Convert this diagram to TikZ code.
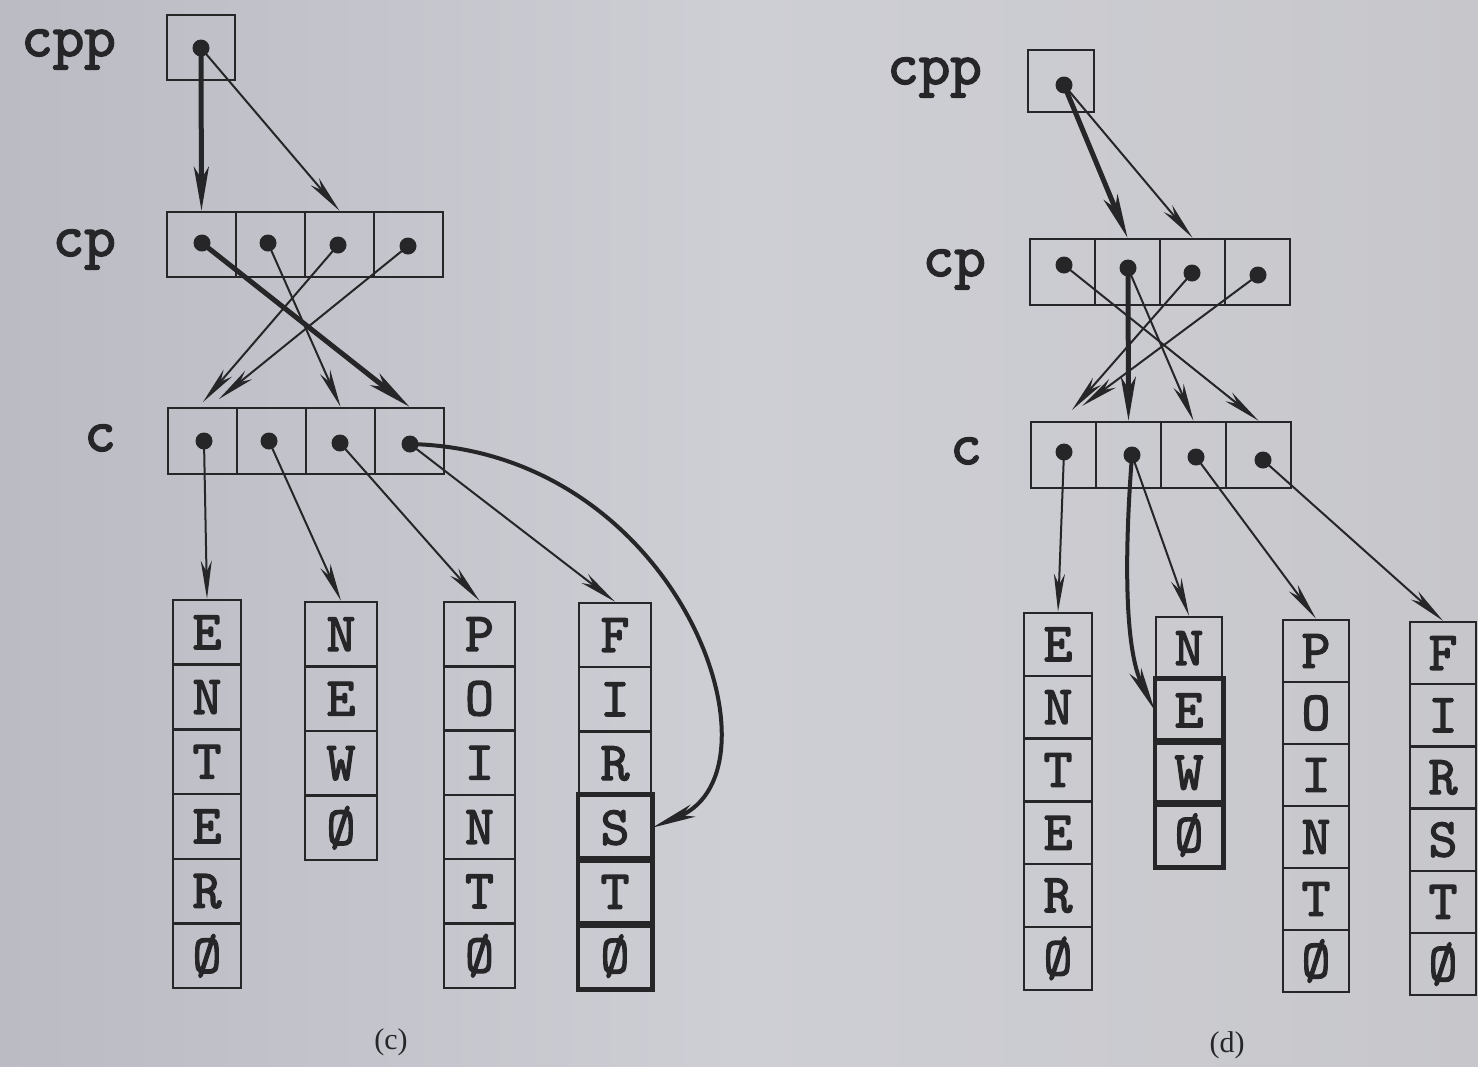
\documentclass[tikz,border=0pt]{standalone}
\usepackage{fontspec}
\setmainfont{Liberation Serif}
\newfontfamily\courfam{lmmono10-regular}[Extension=.otf, FakeBold=2.4]
\usetikzlibrary{arrows.meta}
\definecolor{ink}{RGB}{38,38,40}
\definecolor{bgl}{RGB}{186,187,195}
\definecolor{bgm}{RGB}{206,207,213}
\definecolor{bgr}{RGB}{199,199,203}
\newcommand\lettf{\courfam\fontsize{55}{55}\selectfont}
\newcommand\lbltf{\courfam\fontsize{60}{60}\selectfont}
\newcommand\captf{\fontsize{30}{30}\selectfont}
\tikzset{
  cell/.style={draw=ink, line width=2.5pt, inner sep=0pt, font=\lettf, text=ink},
  dot/.style={circle, fill=ink, inner sep=0pt, minimum size=17pt},
  lbl/.style={font=\lbltf, text=ink, inner sep=0pt, anchor=base east},
  captxt/.style={font=\captf, text=ink, inner sep=0pt},
  thinarr/.style={draw=ink, line width=2pt, -{Stealth[length=38pt,width=11pt,inset=11pt]}},
  thickarr/.style={draw=ink, line width=5pt, -{Stealth[length=44pt,width=15pt,inset=12pt]}},
  curvarr/.style={draw=ink, line width=4pt, -{Stealth[length=44pt,width=13pt,inset=12pt]}},
  thickcell/.style={draw=ink, line width=4.5pt}
}
\begin{document}
\begin{tikzpicture}[x=1pt,y=-1pt]
\useasboundingbox (0,0) rectangle (1478,1066);
\shade[left color=bgl, right color=bgr, middle color=bgm] (0,0) rectangle (1478,1066);

% ================= (c) =================
\node[lbl] (lcpp) at (116,56) {cpp};
\node[lbl] (lcp) at (116,256) {cp};
\node[lbl] (lc) at (116,451) {c};

\node[cell, minimum width=68pt, minimum height=65pt] (cppc) at (201,47.5) {};
\node[dot] (cppd) at (201,48) {};

\foreach \i in {0,...,3} {
  \node[cell, minimum width=69pt, minimum height=65pt] (cpc\i) at ({201.5+69*\i},244.5) {};
  \node[cell, minimum width=69pt, minimum height=66pt] (cc\i) at ({202.5+69*\i},441) {};
}
\node[dot] (cpd0) at (202,243) {};
\node[dot] (cpd1) at (268,243) {};
\node[dot] (cpd2) at (338,245) {};
\node[dot] (cpd3) at (408,246) {};
\node[dot] (cd0) at (204,441) {};
\node[dot] (cd1) at (269,441) {};
\node[dot] (cd2) at (340,443) {};
\node[dot] (cd3) at (410,444) {};

\foreach \ch [count=\i from 0] in {E,N,T,E,R,Ø}
  \node[cell, minimum width=68pt, minimum height=64.7pt] (cE\i) at (207,{600+(\i+0.5)*64.7}) {\ch};
\foreach \ch [count=\i from 0] in {N,E,W,Ø}
  \node[cell, minimum width=72pt, minimum height=64.5pt] (cN\i) at (341,{602+(\i+0.5)*64.5}) {\ch};
\foreach \ch [count=\i from 0] in {P,O,I,N,T,Ø}
  \node[cell, minimum width=71pt, minimum height=64.3pt] (cP\i) at (479.5,{602+(\i+0.5)*64.3}) {\ch};
\foreach \ch [count=\i from 0] in {F,I,R,S,T,Ø}
  \node[cell, minimum width=72pt, minimum height=64.2pt] (cF\i) at (615,{603+(\i+0.5)*64.2}) {\ch};
\foreach \i in {3,4,5}
  \draw[thickcell] (cF\i.north west) rectangle (cF\i.south east);

\coordinate (ct1) at (203,402);
\coordinate (ct2) at (219,399);

\draw[thickarr] (cppd.center) -- (cpc0.north);
\draw[thinarr] (cppd.center) -- (cpc2.north);
\draw[thickarr] (cpd0.center) -- (cc3.north);
\draw[thinarr] (cpd1.center) -- (cc2.north);
\draw[thinarr] (cpd2.center) -- (ct1);
\draw[thinarr] (cpd3.center) -- (ct2);
\draw[thinarr] (cd0.center) -- (cE0.north);
\draw[thinarr] (cd1.center) -- (cN0.north);
\draw[thinarr] (cd2.center) -- (cP0.north);
\draw[thinarr] (cd3.center) -- (cF0.north);
\draw[curvarr] (cd3.center) .. controls (680,450) and (790,770) .. (cF3.east);

\node[captxt] (capc) at (391,1042) {(c)};

% ================= (d) =================
\node[lbl] (dlcpp) at (982,84) {cpp};
\node[lbl] (dlcp) at (986,276) {cp};
\node[lbl] (dlc) at (982,464) {c};

\node[cell, minimum width=66pt, minimum height=62pt] (dcppc) at (1061,81) {};
\node[dot] (dcppd) at (1064,85) {};

\foreach \i in {0,...,3} {
  \node[cell, minimum width=65pt, minimum height=66pt] (dcp\i) at ({1062.5+65*\i},272) {};
  \node[cell, minimum width=65pt, minimum height=66pt] (dc\i) at ({1063.5+65*\i},455) {};
}
\node[dot] (dcpd0) at (1064,265) {};
\node[dot] (dcpd1) at (1128,268) {};
\node[dot] (dcpd2) at (1192,273) {};
\node[dot] (dcpd3) at (1258,275) {};
\node[dot] (dcd0) at (1064,452) {};
\node[dot] (dcd1) at (1132,455) {};
\node[dot] (dcd2) at (1196,457) {};
\node[dot] (dcd3) at (1263,460) {};

\foreach \ch [count=\i from 0] in {E,N,T,E,R,Ø}
  \node[cell, minimum width=68pt, minimum height=62.8pt] (dE\i) at (1058,{613+(\i+0.5)*62.8}) {\ch};
\foreach \ch [count=\i from 0] in {N,E,W,Ø}
  \node[cell, minimum width=66pt, minimum height=62.3pt] (dN\i) at (1189,{617+(\i+0.5)*62.3}) {\ch};
\foreach \ch [count=\i from 0] in {P,O,I,N,T,Ø}
  \node[cell, minimum width=66pt, minimum height=62pt] (dP\i) at (1316,{620+(\i+0.5)*62}) {\ch};
\foreach \ch [count=\i from 0] in {F,I,R,S,T,Ø}
  \node[cell, minimum width=66pt, minimum height=62.2pt] (dF\i) at (1443,{622+(\i+0.5)*62.2}) {\ch};
\foreach \i in {1,2,3}
  \draw[thickcell] (dN\i.north west) rectangle (dN\i.south east);

\coordinate (dt1) at (1072,410);
\coordinate (dt2) at (1082,406);

\draw[thickarr] (dcppd.center) -- (dcp1.north);
\draw[thinarr] (dcppd.center) -- (dcp2.north);
\draw[thinarr] (dcpd0.center) -- (dc3.north);
\draw[thickarr] (dcpd1.center) -- (dc1.north);
\draw[thinarr] (dcpd1.center) -- (dc2.north);
\draw[thinarr] (dcpd2.center) -- (dt1);
\draw[thinarr] (dcpd3.center) -- (dt2);
\draw[thinarr] (dcd0.center) -- (dE0.north);
\draw[thinarr] (dcd1.center) -- (dN0.north);
\draw[thinarr] (dcd2.center) -- (dP0.north);
\draw[thinarr] (dcd3.center) -- (dF0.north);
\draw[curvarr] (dcd1.center) .. controls (1124,560) and (1125,650) .. (dN1.west);

\node[captxt] (capd) at (1227,1045) {(d)};
\end{tikzpicture}
\end{document}
